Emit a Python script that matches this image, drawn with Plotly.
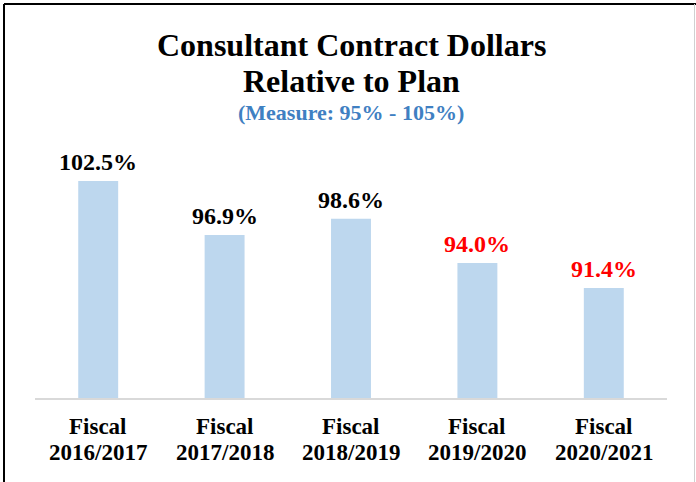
import plotly.graph_objects as go

categories = ["FY2016/2017", "FY2017/2018", "FY2018/2019", "FY2019/2020", "FY2020/2021"]
tick_top = ["Fiscal", "Fiscal", "Fiscal", "Fiscal", "Fiscal"]
tick_bottom = ["2016/2017", "2017/2018", "2018/2019", "2019/2020", "2020/2021"]
values = [102.5, 96.9, 98.6, 94.0, 91.4]
label_colors = ["#000000", "#000000", "#000000", "#ff0000", "#ff0000"]

W, H = 696, 482
ML, MR, MT, MB = 35, 29, 157, 84
PW, PH = W - ML - MR, H - MT - MB

def px_x(p):
    return (p - ML) / PW

def px_y(p):
    return (H - MB - p) / PH

FONT = "Liberation Serif, Times New Roman, serif"

fig = go.Figure(go.Bar(
    x=categories, y=values,
    marker=dict(color="#bdd7ee", line=dict(width=0)),
    width=0.316,
    hoverinfo="skip",
))

annotations = []
for c, v, col in zip(categories, values, label_colors):
    annotations.append(dict(
        x=c, y=v, xref="x", yref="y", text=f"<b>{v:.1f}%</b>",
        showarrow=False, yanchor="bottom", yshift=4,
        font=dict(family=FONT, size=24, color=col),
    ))

for c, t1, t2 in zip(categories, tick_top, tick_bottom):
    annotations.append(dict(
        x=c, y=px_y(426.4), xref="x", yref="paper", yanchor="middle",
        text=f"<b>{t1}</b>", showarrow=False,
        font=dict(family=FONT, size=23, color="#000000"),
    ))
    annotations.append(dict(
        x=c, y=px_y(452.4), xref="x", yref="paper", yanchor="middle",
        text=f"<b>{t2}</b>", showarrow=False,
        font=dict(family=FONT, size=23, color="#000000"),
    ))

title_lines = ["Consultant Contract Dollars", "Relative to Plan"]
title_y = [45.0, 80.7]
for t, yy in zip(title_lines, title_y):
    annotations.append(dict(
        x=0.5, y=px_y(yy), xref="paper", yref="paper", xanchor="center", yanchor="middle",
        text=f"<b>{t}</b>", showarrow=False,
        font=dict(family=FONT, size=32, color="#000000"),
    ))

annotations.append(dict(
    x=0.5, y=px_y(112.5), xref="paper", yref="paper", xanchor="center", yanchor="middle",
    text="<b>(Measure: 95% - 105%)</b>", showarrow=False,
    font=dict(family=FONT, size=22, color="#3f80c2"),
))

shapes = [
    dict(type="line", xref="paper", yref="paper", x0=px_x(4), x1=px_x(696), y0=px_y(4), y1=px_y(4),
         line=dict(color="#000000", width=2)),
    dict(type="line", xref="paper", yref="paper", x0=px_x(4), x1=px_x(4), y0=px_y(4), y1=px_y(490),
         line=dict(color="#000000", width=2)),
    dict(type="line", xref="paper", yref="paper", x0=px_x(694.5), x1=px_x(694.5), y0=px_y(4), y1=px_y(490),
         line=dict(color="#d0d0d0", width=1)),
]

fig.update_layout(
    width=W, height=H,
    margin=dict(l=ML, r=MR, t=MT, b=MB, pad=0),
    paper_bgcolor="white", plot_bgcolor="white",
    showlegend=False,
    xaxis=dict(
        showgrid=False, showline=True, linecolor="#d9d9d9", linewidth=2,
        ticks="", showticklabels=False, automargin=False,
    ),
    yaxis=dict(range=[80, 105], visible=False, showgrid=False, automargin=False),
    annotations=annotations,
    shapes=shapes,
)

fig.write_html(
    "out.html",
    config={"displayModeBar": False},
    post_script="document.body.style.margin='0';document.body.style.overflow='hidden';",
)
